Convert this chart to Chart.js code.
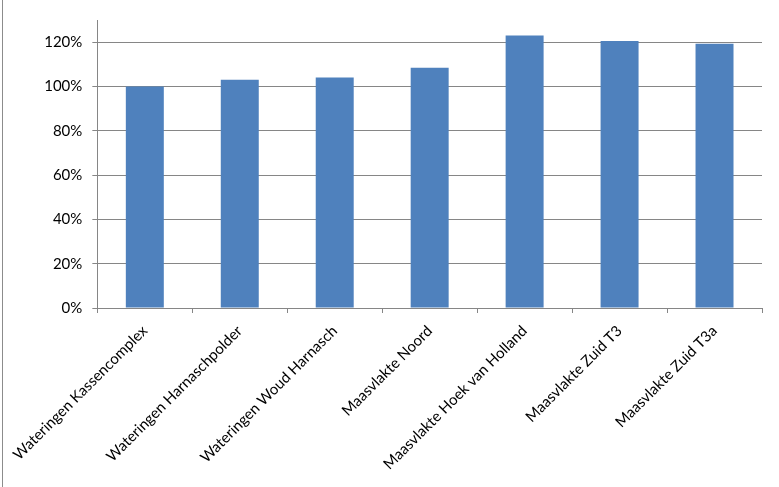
<!DOCTYPE html>
<html>
<head>
<meta charset="utf-8">
<script src="https://cdn.jsdelivr.net/npm/chart.js@4"></script>
<style>
  html, body { margin: 0; padding: 0; background: #fff; }
  #wrap { width: 779px; height: 487px; }
</style>
</head>
<body>
<div id="wrap"><canvas id="bar-chart" width="779" height="487"></canvas></div>
<script>
const categories = [
  "Wateringen Kassencomplex",
  "Wateringen Harnaschpolder",
  "Wateringen Woud Harnasch",
  "Maasvlakte Noord",
  "Maasvlakte Hoek van Holland",
  "Maasvlakte Zuid T3",
  "Maasvlakte Zuid T3a",
];
const values = [100, 103, 104, 108.5, 123, 120.5, 119.3];
const yTicks = [0, 20, 40, 60, 80, 100, 120];

const gridGray = "#868686";

// thin frame line on the left edge
const leftEdge = {
  id: "leftEdge",
  afterDraw(chart) {
    const ctx = chart.ctx;
    ctx.save();
    ctx.strokeStyle = "#8c8c8c";
    ctx.lineWidth = 1;
    ctx.beginPath();
    ctx.moveTo(2.5, 0);
    ctx.lineTo(2.5, chart.height);
    ctx.stroke();
    ctx.restore();
  },
};

new Chart(document.querySelector("#bar-chart").getContext("2d"), {
  type: "bar",
  data: {
    labels: categories,
    datasets: [
      {
        data: values,
        backgroundColor: "#4F81BD",
        barPercentage: 0.4,
        categoryPercentage: 1,
      },
    ],
  },
  options: {
    responsive: false,
    animation: false,
    layout: { padding: { left: 0, top: 20, right: 17, bottom: 0 } },
    plugins: {
      legend: { display: false },
      tooltip: { enabled: false },
    },
    scales: {
      x: {
        grid: {
          offset: true,
          drawOnChartArea: false,
          color: gridGray,
          tickLength: 5,
        },
        border: { color: gridGray },
        ticks: {
          maxRotation: 45,
          minRotation: 45,
          autoSkip: false,
          padding: 9,
          color: "#000",
          font: { family: "Lato", size: 15 },
        },
        afterFit(scale) {
          scale.height = 179;
        },
      },
      y: {
        min: 0,
        max: 130,
        grid: { color: gridGray, tickLength: 5 },
        border: { color: gridGray },
        ticks: {
          stepSize: 20,
          padding: 10,
          color: "#000",
          font: { family: "Lato", size: 15 },
          callback: (v) => v + "%",
        },
        afterBuildTicks(scale) {
          scale.ticks = yTicks.map((v) => ({ value: v }));
        },
        afterFit(scale) {
          scale.width = 97;
        },
      },
    },
  },
  plugins: [leftEdge],
});
</script>
</body>
</html>
